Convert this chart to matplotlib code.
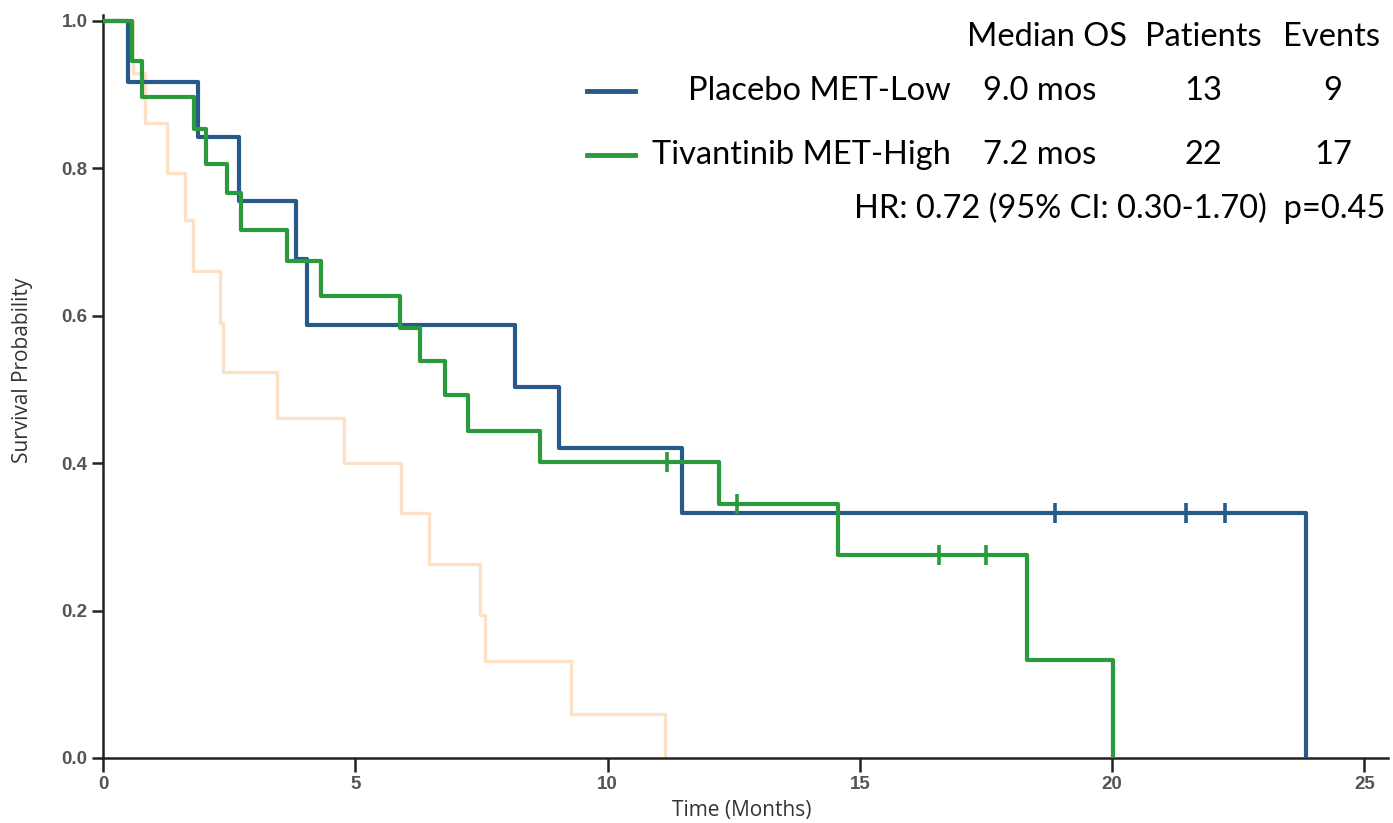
import numpy as np
import matplotlib
matplotlib.use("Agg")
import matplotlib.pyplot as plt

# Kaplan-Meier steps (time in months, survival probability)
placebo_t = [0, 0.49, 1.88, 2.70, 3.82, 4.04, 8.16, 9.04, 11.47, 23.85]
placebo_s = [1.0, 0.917, 0.842, 0.756, 0.677, 0.5875, 0.504, 0.420, 0.333, 0.0]
placebo_cens = [18.87, 21.46, 22.24]

tivan_t = [0, 0.57, 0.77, 1.81, 2.05, 2.45, 2.73, 3.65, 4.33, 5.89, 6.28, 6.78,
           7.24, 8.67, 12.21, 14.57, 18.32, 20.02]
tivan_s = [1.0, 0.945, 0.897, 0.853, 0.806, 0.766, 0.716, 0.674, 0.627, 0.583,
           0.539, 0.492, 0.444, 0.401, 0.345, 0.275, 0.133, 0.0]
tivan_cens = [11.17, 12.56, 16.57, 17.50]

other_t = [0, 0.60, 0.83, 1.26, 1.63, 1.79, 2.32, 2.37, 3.44, 4.78, 5.91, 6.47,
           7.47, 7.57, 9.27, 11.14]
other_s = [1.0, 0.929, 0.861, 0.793, 0.730, 0.661, 0.590, 0.524, 0.461, 0.400,
           0.332, 0.263, 0.194, 0.132, 0.060, 0.0]

groups = ["Placebo MET-Low", "Tivantinib MET-High"]
median_os = ["9.0 mos", "7.2 mos"]
patients = ["13", "22"]
events = ["9", "17"]
headers = ["Median OS", "Patients", "Events"]
hr_text = "HR: 0.72 (95% CI: 0.30-1.70)  p=0.45"

BLUE = "#275a8a"
GREEN = "#2a9a3c"
PEACH = "#fde1c6"


def level_at(times, surv, t):
    i = np.searchsorted(times, t, side="right") - 1
    return surv[i]


fig = plt.figure(figsize=(13.93, 8.23), dpi=100)
ax = fig.add_axes([103 / 1393, 65 / 823, 1285 / 1393, 743 / 823])

ax.step(other_t, other_s, where="post", c=PEACH, lw=2.4, zorder=2)
ax.step(placebo_t, placebo_s, where="post", c=BLUE, lw=3.0, zorder=3)
ax.step(tivan_t, tivan_s, where="post", c=GREEN, lw=3.0, zorder=4)

ax.plot(placebo_cens, [level_at(placebo_t, placebo_s, t) for t in placebo_cens],
        ls="none", marker="|", ms=15, mew=2.6, c=BLUE, zorder=3)
ax.plot(tivan_cens, [level_at(tivan_t, tivan_s, t) for t in tivan_cens],
        ls="none", marker="|", ms=15, mew=2.6, c=GREEN, zorder=4)

ax.set_xlim(0, 25.47)
ax.set_ylim(0, 1.008)
ax.set_xticks([0, 5, 10, 15, 20, 25])
ax.set_yticks([0.0, 0.2, 0.4, 0.6, 0.8, 1.0])
ax.set_yticklabels([f"{v:.1f}" for v in [0.0, 0.2, 0.4, 0.6, 0.8, 1.0]])
for s in ["top", "right"]:
    ax.spines[s].set_visible(False)
for s in ["left", "bottom"]:
    ax.spines[s].set_linewidth(1.8)
    ax.spines[s].set_color("#222222")
ax.tick_params(axis="y", length=8, width=1.8, color="#222222", pad=3)
ax.tick_params(axis="x", length=10, width=1.8, color="#222222", pad=3)
for lab in ax.get_xticklabels() + ax.get_yticklabels():
    lab.set_family("Liberation Sans")
    lab.set_fontsize(13.5)
    lab.set_fontweight("bold")
    lab.set_color("#555555")

ax.set_xlabel("Time (Months)", family="Open Sans", fontsize=15, color="#333333")
ax.set_ylabel("Survival Probability", family="Open Sans", fontsize=15, color="#333333")
ax.xaxis.set_label_coords(0.497, -42 / 743, transform=ax.transAxes)
ax.yaxis.set_label_coords(-70 / 1285, 0.522, transform=ax.transAxes)

# legend table drawn in pixel coordinates of the figure
def fx(px):
    return px / 1393


def fy(py):
    return 1 - py / 823


tfont = dict(family="Lato", fontsize=23.5, color="black")
col_x = [1047, 1203, 1331]
for x, h in zip(col_x, headers):
    fig.text(fx(x), fy(37), h, ha="center", va="center", **tfont)

row_y = [91, 155]
for i, (y, c) in enumerate(zip(row_y, [BLUE, GREEN])):
    fig.add_artist(plt.Line2D([fx(587), fx(635)], [fy(y), fy(y)], c=c, lw=3.5))
    fig.text(fx(951), fy(y), groups[i], ha="right", va="center", **tfont)
    fig.text(fx(col_x[0] - 7), fy(y), median_os[i], ha="center", va="center", **tfont)
    fig.text(fx(col_x[1]), fy(y), patients[i], ha="center", va="center", **tfont)
    fig.text(fx(col_x[2] + 2), fy(y), events[i], ha="center", va="center", **tfont)

fig.text(fx(1385), fy(208), hr_text, ha="right", va="center", **tfont)

fig.savefig("out.png", dpi=100)
